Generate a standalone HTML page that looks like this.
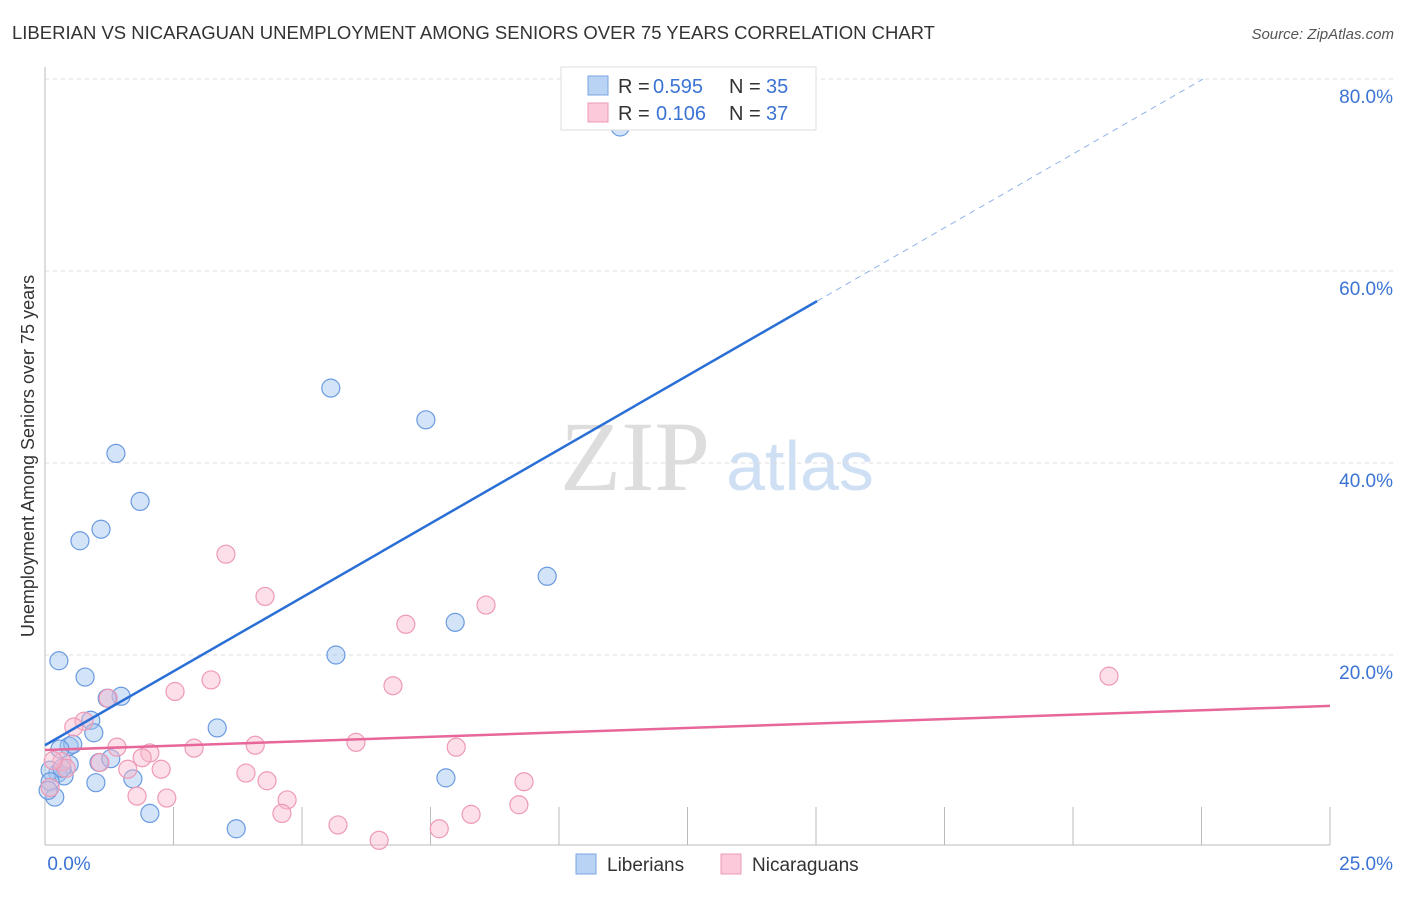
<!DOCTYPE html>
<html><head><meta charset="utf-8"><style>
body{margin:0;background:#fff;font-family:"Liberation Sans",sans-serif}
#wrap{position:relative;width:1406px;height:892px}
</style></head><body>
<div id="wrap">
<svg id="svg" width="1406" height="892" xmlns="http://www.w3.org/2000/svg">
<text x="12" y="39" font-size="18" fill="#333" textLength="923" lengthAdjust="spacingAndGlyphs">LIBERIAN VS NICARAGUAN UNEMPLOYMENT AMONG SENIORS OVER 75 YEARS CORRELATION CHART</text>
<text x="1394" y="39" font-size="15" fill="#555" font-style="italic" text-anchor="end">Source: ZipAtlas.com</text>
<text x="34" y="456" font-size="18" fill="#333" text-anchor="middle" transform="rotate(-90 34 456)">Unemployment Among Seniors over 75 years</text>
<text x="635" y="490" font-size="100" fill="#ddd" font-family="Liberation Serif" text-anchor="middle">ZIP</text>
<text x="800" y="490" font-size="70" fill="#cfe0f5" text-anchor="middle">atlas</text>
<g id="grid"></g><g id="pts"></g><g id="lines"></g>
<text x="69" y="870" font-size="19" fill="#3b73d4" text-anchor="middle">0.0%</text>
<text x="1393" y="870" font-size="19" fill="#3b73d4" text-anchor="end">25.0%</text>
<g>
<rect x="561" y="67" width="255" height="63" fill="#fff" stroke="#ddd"/>
<rect x="588" y="76" width="20" height="19" fill="#b9d3f5" stroke="#7aa6e0"/>
<rect x="588" y="103" width="20" height="19" fill="#fbc9d9" stroke="#ee9ab5"/>
<text x="618" y="93" font-size="20" fill="#333">R =</text>
<text x="653" y="93" font-size="20" fill="#3b73d4">0.595</text>
<text x="729" y="93" font-size="20" fill="#333">N =</text>
<text x="766" y="93" font-size="20" fill="#3b73d4">35</text>
<text x="618" y="120" font-size="20" fill="#333">R =</text>
<text x="656" y="120" font-size="20" fill="#3b73d4">0.106</text>
<text x="729" y="120" font-size="20" fill="#333">N =</text>
<text x="766" y="120" font-size="20" fill="#3b73d4">37</text>
</g>
<g>
<rect x="576" y="854" width="20" height="20" fill="#b9d3f5" stroke="#7aa6e0"/>
<text x="607" y="871" font-size="19" fill="#333">Liberians</text>
<rect x="721" y="854" width="20" height="20" fill="#fbc9d9" stroke="#ee9ab5"/>
<text x="752" y="871" font-size="19" fill="#333">Nicaraguans</text>
</g>
</svg></div>
<script>
const yTicks=[20,40,60,80];
const xTicks=[2.5,5,7.5,10,12.5,15,17.5,20,22.5,25];
const libX=[11.19,5.56,7.41,1.38,1.85,0.68,1.09,9.77,7.98,5.66,0.27,0.78,1.48,1.21,3.35,0.89,0.95,0.47,0.54,0.29,0.47,1.05,1.28,0.25,0.37,0.10,0.10,0.99,1.71,7.80,0.19,2.04,3.72,0.06,0.33];
const libY=[75.0,47.8,44.5,41.0,36.0,31.9,33.1,28.2,23.4,20.0,19.4,17.7,15.7,15.5,12.4,13.2,11.9,10.5,10.7,10.2,8.6,8.8,9.2,7.7,7.4,8.0,6.8,6.7,7.1,7.2,5.2,3.5,1.9,5.9,8.2];
const nicX=[3.52,4.28,7.02,8.58,20.70,6.77,2.53,3.23,1.23,0.76,0.56,1.40,2.04,2.90,4.09,6.05,8.00,1.89,1.07,1.61,2.26,3.91,4.32,9.32,0.33,0.41,0.16,0.10,1.79,2.37,4.71,4.61,9.22,8.29,5.70,7.67,6.50];
const nicY=[30.5,26.1,23.2,25.2,17.8,16.8,16.2,17.4,15.5,13.1,12.5,10.4,9.8,10.3,10.6,10.9,10.4,9.3,8.8,8.1,8.1,7.7,6.9,6.8,8.9,8.2,9.0,6.2,5.3,5.1,4.9,3.5,4.4,3.4,2.3,1.9,0.7];
const libTrend=[10.6,3.08];
const nicTrend=[10.1,0.184];
const X=v=>45+v*51.4, Y=v=>847-v*9.6;
const NS='http://www.w3.org/2000/svg';
function mk(p,t,a){const e=document.createElementNS(NS,t);for(const k in a)e.setAttribute(k,a[k]);p.appendChild(e);return e;}
const grid=document.getElementById('grid');
let ax=mk(grid,'line',{x1:45,y1:67,x2:45,y2:845,stroke:'#bbb'});


let bx=mk(grid,'line',{x1:45,y1:845,x2:1330,y2:845,stroke:'#bbb'});


yTicks.forEach(t=>{
 const g=mk(grid,'line',{x1:45,y1:Y(t),x2:1395,y2:Y(t),stroke:'#ddd','stroke-dasharray':'4,4'});
 
 
 const l=mk(grid,'text',{x:1393,y:Y(t)+24,'font-size':19,fill:'#3b73d4','text-anchor':'end'});
 l.textContent=t.toFixed(1)+'%';
 
 
});
xTicks.forEach(t=>{
 const g=mk(grid,'line',{x1:X(t),y1:807,x2:X(t),y2:845,stroke:'#bbb'});
 
 
});
const pts=document.getElementById('pts');
libX.forEach((x,i)=>{const c=mk(pts,'circle',{cx:X(x),cy:Y(libY[i]),r:9,fill:'rgba(160,195,240,0.45)',stroke:'#6a9be0','stroke-width':1.2});
 
 });
nicX.forEach((x,i)=>{const c=mk(pts,'circle',{cx:X(x),cy:Y(nicY[i]),r:9,fill:'rgba(248,185,205,0.45)',stroke:'#ee9ab5','stroke-width':1.2});
 
 });
const ln=document.getElementById('lines');
const f=(t,x)=>t[0]+t[1]*x;
let a=mk(ln,'line',{x1:X(0),y1:Y(f(libTrend,0)),x2:X(15.02),y2:Y(f(libTrend,15.02)),stroke:'#2a6fd6','stroke-width':2.5});


const xe=(80-libTrend[0])/libTrend[1];
let b=mk(ln,'line',{x1:X(15.02),y1:Y(f(libTrend,15.02)),x2:X(xe),y2:Y(80),stroke:'#8fb3e8','stroke-width':1,'stroke-dasharray':'6,5'});


let c=mk(ln,'line',{x1:X(0),y1:Y(f(nicTrend,0)),x2:X(25),y2:Y(f(nicTrend,25)),stroke:'#e8679a','stroke-width':2.5});


</script>
</body></html>
